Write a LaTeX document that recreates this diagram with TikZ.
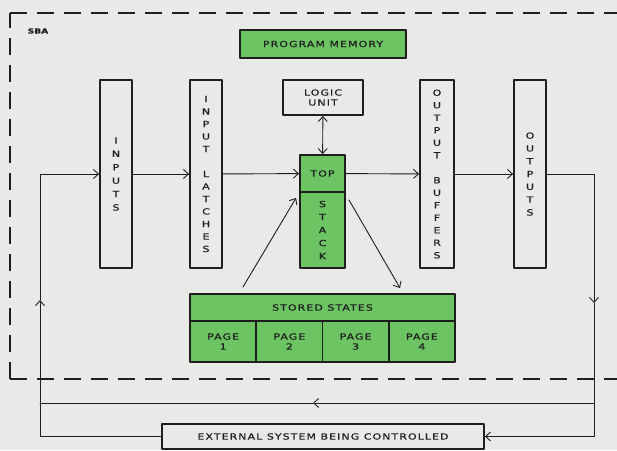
\documentclass[tikz,border=0pt]{standalone}
\usepackage{fontspec}
\setmainfont{DejaVu Sans}[LetterSpace=12, FakeStretch=1.3, FakeBold=0.5]
\usetikzlibrary{arrows.meta}
\definecolor{boxgreen}{RGB}{108,196,98}
\definecolor{paper}{RGB}{233,233,231}
\definecolor{ink}{RGB}{30,30,30}

\begin{document}
\begin{tikzpicture}[x=1pt,y=-1pt,line cap=round,line join=round]
\tikzset{
    block/.style={draw=ink, line width=1.8pt, fill=paper, inner sep=0pt, align=center, text=ink, font=\fontsize{8.5}{12.5}\selectfont},
    greenblock/.style={block, fill=boxgreen},
    vtext/.style={font=\fontsize{8.5}{#1}\selectfont\addfontfeature{LetterSpace=0}},
    wire/.style={draw=ink, line width=0.9pt},
    tip/.style={wire, -{Straight Barb[length=5pt,width=9pt]}},
    border/.style={draw=ink, line width=1.1pt, line cap=butt, dash pattern=on 17pt off 10pt},
}
\fill[paper] (0,0) rectangle (617,450);
\useasboundingbox (0,0) rectangle (617,450);
% dashed outline of the SBA
\coordinate (tl) at (10,13);
\coordinate (bl) at (10,379);
\draw[border] (tl) -- (617,13);
\draw[border] (bl) -- (tl);
\draw[border] (bl) -- (617,379);
\node[text=ink, font=\fontsize{7}{8}\selectfont\bfseries\addfontfeature{LetterSpace=0}] (sba) at (38,31) {SBA};
% blocks
\node[greenblock, minimum width=166pt, minimum height=28pt] (progmem) at (323,44) {PROGRAM MEMORY};
\node[block, vtext=13.4, minimum width=32pt, minimum height=188pt] (inputs) at (116,174) {I\\N\\P\\U\\T\\S};
\node[block, vtext=12.5, minimum width=32pt, minimum height=188pt] (latches) at (206,174) {I\\N\\P\\U\\T\\[12.5pt]L\\A\\T\\C\\H\\E\\S};
\node[block, minimum width=80pt, minimum height=35pt, font=\fontsize{8.5}{10}\selectfont] (logicunit) at (323,97.5) {LOGIC\\UNIT};
\node[greenblock, minimum width=45pt, minimum height=37pt] (top) at (322.5,173.5) {TOP};
\node[greenblock, vtext=13, minimum width=45pt, minimum height=76pt] (stack) at (322.5,230) {S\\T\\A\\C\\K};
\node[block, vtext=12.5, minimum width=34pt, minimum height=188pt] (outbuf) at (437,174) {O\\U\\T\\P\\U\\T\\[12.5pt]B\\U\\F\\F\\E\\R\\S};
\node[block, vtext=12.8, minimum width=32pt, minimum height=188pt] (outputs) at (530,174) {O\\U\\T\\P\\U\\T\\S};
\node[greenblock, minimum width=265pt, minimum height=27pt] (stored) at (322.5,307.5) {STORED STATES};
\foreach \i in {1,...,4}
    \node[greenblock, minimum width=66.25pt, minimum height=41pt, font=\fontsize{8.5}{10}\selectfont] (page\i) at (156.875+66.25*\i,341.5) {PAGE\\\i};
\node[block, minimum width=322pt, minimum height=25pt] (extsys) at (323,436.5) {EXTERNAL SYSTEM BEING CONTROLLED};
% main data path
\draw[tip] (inputs) -- (latches);
\draw[tip] (latches) -- (top);
\draw[tip] (top) -- (outbuf);
\draw[tip] (outbuf) -- (outputs);
\draw[wire, {Straight Barb[length=5pt,width=9pt]}-{Straight Barb[length=5pt,width=9pt]}] (logicunit) -- (top);
% stack to and from stored states
\coordinate (fetch) at (243,287);
\coordinate (fetchend) at (296,198);
\coordinate (save) at (349,200);
\coordinate (saveend) at (400,288);
\draw[tip] (fetch) -- (fetchend);
\draw[tip] (save) -- (saveend);
% loop through the external system
\coordinate (rtop) at (594,174);
\coordinate (rdown) at (594,303);
\coordinate (rret) at (594,403);
\coordinate (rbot) at (594,436.5);
\coordinate (retmid) at (313,403);
\coordinate (lret) at (40,403);
\coordinate (lbot) at (40,436.5);
\coordinate (lup) at (40,300);
\coordinate (ltop) at (40,174);
\draw[tip] (outputs.east) -- (rtop) -- (rdown);
\draw[tip] (rdown) -- (rbot) -- (extsys.east);
\draw[tip] (rret) -- (retmid);
\draw[wire] (retmid) -- (lret);
\draw[tip] (extsys.west) -- (lbot) -- (lup);
\draw[tip] (lup) -- (ltop) -- (inputs.west);
\end{tikzpicture}
\end{document}
